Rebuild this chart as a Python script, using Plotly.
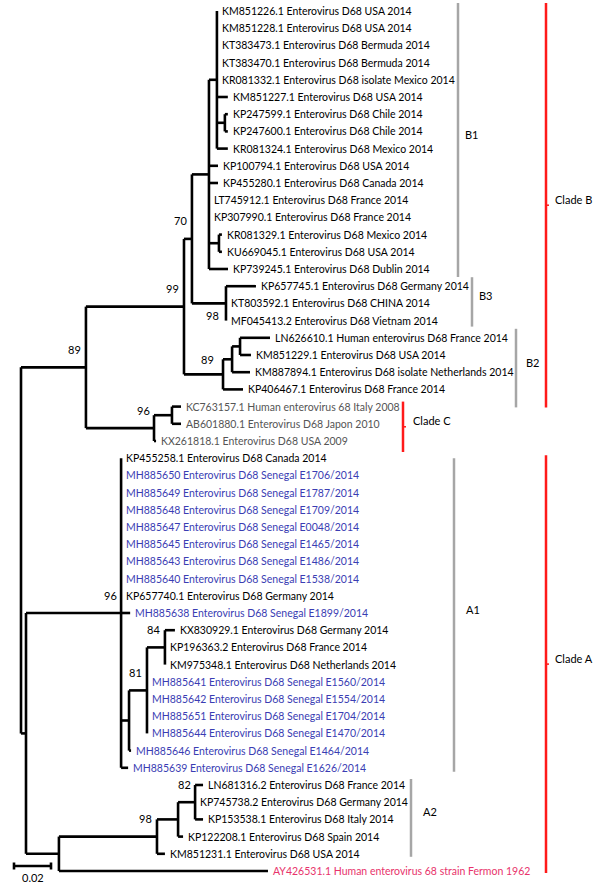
import plotly.graph_objects as go

# ---------------- data ----------------
leaf_labels = [
    "KM851226.1 Enterovirus D68 USA 2014",
    "KM851228.1 Enterovirus D68 USA 2014",
    "KT383473.1 Enterovirus D68 Bermuda 2014",
    "KT383470.1 Enterovirus D68 Bermuda 2014",
    "KR081332.1 Enterovirus D68 isolate Mexico 2014",
    "KM851227.1 Enterovirus D68 USA 2014",
    "KP247599.1 Enterovirus D68 Chile 2014",
    "KP247600.1 Enterovirus D68 Chile 2014",
    "KR081324.1 Enterovirus D68 Mexico 2014",
    "KP100794.1 Enterovirus D68 USA 2014",
    "KP455280.1 Enterovirus D68 Canada 2014",
    "LT745912.1 Enterovirus D68 France 2014",
    "KP307990.1 Enterovirus D68 France 2014",
    "KR081329.1 Enterovirus D68 Mexico 2014",
    "KU669045.1 Enterovirus D68 USA 2014",
    "KP739245.1 Enterovirus D68 Dublin 2014",
    "KP657745.1 Enterovirus D68 Germany 2014",
    "KT803592.1 Enterovirus D68 CHINA 2014",
    "MF045413.2 Enterovirus D68 Vietnam 2014",
    "LN626610.1 Human enterovirus D68 France 2014",
    "KM851229.1 Enterovirus D68 USA 2014",
    "KM887894.1 Enterovirus D68 isolate Netherlands 2014",
    "KP406467.1 Enterovirus D68 France 2014",
    "KC763157.1 Human enterovirus 68 Italy 2008",
    "AB601880.1 Enterovirus D68 Japon 2010",
    "KX261818.1 Enterovirus D68 USA 2009",
    "KP455258.1 Enterovirus D68 Canada 2014",
    "MH885650 Enterovirus D68 Senegal E1706/2014",
    "MH885649 Enterovirus D68 Senegal E1787/2014",
    "MH885648 Enterovirus D68 Senegal E1709/2014",
    "MH885647 Enterovirus D68 Senegal E0048/2014",
    "MH885645 Enterovirus D68 Senegal E1465/2014",
    "MH885643 Enterovirus D68 Senegal E1486/2014",
    "MH885640 Enterovirus D68 Senegal E1538/2014",
    "KP657740.1 Enterovirus D68 Germany 2014",
    "MH885638 Enterovirus D68 Senegal E1899/2014",
    "KX830929.1 Enterovirus D68 Germany 2014",
    "KP196363.2 Enterovirus D68 France 2014",
    "KM975348.1 Enterovirus D68 Netherlands 2014",
    "MH885641 Enterovirus D68 Senegal E1560/2014",
    "MH885642 Enterovirus D68 Senegal E1554/2014",
    "MH885651 Enterovirus D68 Senegal E1704/2014",
    "MH885644 Enterovirus D68 Senegal E1470/2014",
    "MH885646 Enterovirus D68 Senegal E1464/2014",
    "MH885639 Enterovirus D68 Senegal E1626/2014",
    "LN681316.2 Enterovirus D68 France 2014",
    "KP745738.2 Enterovirus D68 Germany 2014",
    "KP153538.1 Enterovirus D68 Italy 2014",
    "KP122208.1 Enterovirus D68 Spain 2014",
    "KM851231.1 Enterovirus D68 USA 2014",
    "AY426531.1 Human enterovirus 68 strain Fermon 1962",
]
leaf_groups = (["ref"] * 23 + ["old"] * 3 + ["ref"] + ["senegal"] * 7 + ["ref"]
               + ["senegal"] + ["ref"] * 3 + ["senegal"] * 6 + ["ref"] * 5 + ["prototype"])

# tree edges: (child, parent, branch length in substitutions/site)
edges_backbone = [
    ("BC", "root", 0.0351), ("A", "root", 0.0027),
    ("B", "BC", 0.0530), ("C", "BC", 0.0368),
    ("B1B3", "B", 0.0043), ("B2", "B", 0.0211),
    ("B1", "B1B3", 0.0092), ("B3", "B1B3", 0.0184),
    ("A1", "A", 0.0514), ("A2O", "A", 0.0178),
    ("A2", "A2O", 0.0530), ("AY426531", "A2O", 0.1130),
]
edges_B1 = [
    ("N1", "B1", 0.0043),
    ("KM851226", "N1", 0.0), ("KM851228", "N1", 0.0), ("KT383473", "N1", 0.0),
    ("KT383470", "N1", 0.0), ("KR081332", "N1", 0.0), ("KM851227", "N1", 0.0059),
    ("N2", "N1", 0.0043), ("KP247599", "N2", 0.0016), ("KP247600", "N2", 0.0016),
    ("KR081324", "N1", 0.0059),
    ("KP100794", "B1", 0.0049), ("KP455280", "B1", 0.0049), ("LT745912", "B1", 0.0),
    ("KP307990", "B1", 0.0), ("N3", "B1", 0.0054), ("KR081329", "N3", 0.0016),
    ("KU669045", "N3", 0.0016), ("KP739245", "B1", 0.0103),
]
edges_B3_B2 = [
    ("KP657745", "B3", 0.0162), ("KT803592", "B3", 0.0), ("MF045413", "B3", 0.0),
    ("B2a", "B2", 0.0049), ("KP406467", "B2", 0.0108),
    ("B2b", "B2a", 0.0043), ("KM887894", "B2a", 0.0097),
    ("LN626610", "B2b", 0.0162), ("KM851229", "B2b", 0.0059),
]
edges_C = [
    ("C1", "C", 0.0097), ("KC763157", "C1", 0.0049), ("AB601880", "C1", 0.0049),
    ("KX261818", "C", 0.0011),
]
edges_A1 = [
    ("KP455258", "A1", 0.0), ("MH885650", "A1", 0.0), ("MH885649", "A1", 0.0),
    ("MH885648", "A1", 0.0), ("MH885647", "A1", 0.0), ("MH885645", "A1", 0.0),
    ("MH885643", "A1", 0.0), ("MH885640", "A1", 0.0), ("KP657740", "A1", 0.0),
    ("MH885638", "A1", 0.0049), ("S1", "A1", 0.0043), ("MH885639", "A1", 0.0038),
    ("S2", "S1", 0.0097), ("MH885646", "S1", 0.0011),
    ("S3", "S2", 0.0097), ("MH885641", "S2", 0.0), ("MH885642", "S2", 0.0),
    ("MH885651", "S2", 0.0), ("MH885644", "S2", 0.0),
    ("KX830929", "S3", 0.0054), ("KP196363", "S3", 0.0), ("KM975348", "S3", 0.0),
]
edges_A2 = [
    ("A2a", "A2", 0.0114), ("KM851231", "A2", 0.0043),
    ("A2b", "A2a", 0.0092), ("KP122208", "A2a", 0.0027),
    ("LN681316", "A2b", 0.0043), ("KP745738", "A2b", 0.0), ("KP153538", "A2b", 0.0043),
]

bootstrap_nodes = ["BC", "B", "B1B3", "B3", "B2", "C", "A1", "S2", "S3", "A2", "A2b"]
bootstrap_values = [89, 99, 70, 98, 89, 96, 96, 81, 84, 98, 82]

clade_names = ["B1", "B3", "B2", "Clade B", "Clade C", "A1", "A2", "Clade A"]
clade_first = ["KM851226", "KP657745", "LN626610", "KM851226", "KC763157", "KP455258", "LN681316", "KP455258"]
clade_last = ["KP739245", "MF045413", "KP406467", "KP406467", "KX261818", "MH885639", "KM851231", "AY426531"]

scale_bar_value = 0.02

# ---------------- style ----------------
W, H = 600, 893
PX_PER_UNIT = 1850.0
ROOT_PX = 21.0
LEAF_TOP_PX, LEAF_STEP_PX = 11.0, 17.2
FONT = "Lato"
LEAF_FONT_SIZE = 10.5
group_color = {"ref": "#000000", "senegal": "#3a3db3", "old": "#555555", "prototype": "#e8336b"}
bootstrap_shift = {"B3": (-13, -12), "B2": (-16, 15)}
# per clade: bar x (px), colour, top pad (px), bottom pad (px), label gap (px)
clade_style = {
    "B1": (458, "#a6a6a6", 8, 8, 5),
    "B3": (472, "#a6a6a6", 9, 6, 5),
    "B2": (516, "#a6a6a6", 9, 18, 8),
    "Clade B": (546, "#ff1a1a", 8, 18, 7),
    "Clade C": (403, "#ff1a1a", 5, 11, 8),
    "A1": (454, "#a6a6a6", 0, 4, 10),
    "A2": (411, "#a6a6a6", 6, 3, 10),
    "Clade A": (546, "#ff1a1a", 3, 2, 7),
}

# ---------------- layout computation ----------------
edges = edges_backbone + edges_B1 + edges_B3_B2 + edges_C + edges_A1 + edges_A2
blen = {c: l for c, _, l in edges}
children = {}
for c, p, _ in edges:
    children.setdefault(p, []).append(c)

leaf_keys = [lab.split()[0].split(".")[0] for lab in leaf_labels]
leaf_index = {k: i for i, k in enumerate(leaf_keys)}

xpos = {"root": 0.0}
def set_x(n):
    for c in children.get(n, []):
        xpos[c] = xpos[n] + blen[c]
        set_x(c)
set_x("root")

ypos = {}
def set_y(n):
    if n in leaf_index:
        ypos[n] = float(leaf_index[n])
    else:
        ys = [set_y(c) for c in children[n]]
        ypos[n] = (min(ys) + max(ys)) / 2.0
    return ypos[n]
set_y("root")

lx, ly = [], []
for c, p, _ in edges:
    lx += [xpos[p], xpos[c], None]
    ly += [ypos[c], ypos[c], None]
for n, cs in children.items():
    ys = [ypos[c] for c in cs]
    lx += [xpos[n], xpos[n], None]
    ly += [min(ys), max(ys), None]

fig = go.Figure()
fig.add_trace(go.Scatter(x=lx, y=ly, mode="lines",
                         line=dict(color="#000000", width=2.6),
                         hoverinfo="skip", showlegend=False))

annotations = []
for i, lab in enumerate(leaf_labels):
    k = leaf_keys[i]
    annotations.append(dict(x=xpos[k], y=ypos[k], text=lab, showarrow=False,
                            xanchor="left", yanchor="middle", xshift=3,
                            font=dict(family=FONT, size=LEAF_FONT_SIZE,
                                      color=group_color[leaf_groups[i]])))

for n, v in zip(bootstrap_nodes, bootstrap_values):
    dx, dy = bootstrap_shift.get(n, (-11, 18))
    annotations.append(dict(x=xpos[n], y=ypos[n], text=str(v), showarrow=False,
                            xanchor="center", yanchor="middle", xshift=dx, yshift=dy,
                            font=dict(family=FONT, size=11, color="#000000")))

shapes = []
for name, f, l in zip(clade_names, clade_first, clade_last):
    bx, col, tp, bp, gap = clade_style[name]
    y0 = ypos[f] - tp / LEAF_STEP_PX
    y1 = ypos[l] + bp / LEAF_STEP_PX
    shapes.append(dict(type="line", xref="paper", yref="y", x0=bx / W, x1=bx / W,
                       y0=y0, y1=y1, line=dict(color=col, width=2.5)))
    ym = (y0 + y1) / 2
    if "Clade" in name:
        shapes.append(dict(type="line", xref="paper", yref="y", x0=bx / W, x1=(bx + 3) / W,
                           y0=ym, y1=ym, line=dict(color=col, width=1.5)))
    annotations.append(dict(xref="paper", yref="y", x=(bx + gap) / W, y=ym, text=name,
                            showarrow=False, xanchor="left", yanchor="middle", yshift=6,
                            font=dict(family=FONT, size=11, color="#000000")))

# scale bar
sb_x0 = (14 - ROOT_PX) / PX_PER_UNIT
sb_y = (866 - LEAF_TOP_PX) / LEAF_STEP_PX
tick = 3.5 / LEAF_STEP_PX
fig.add_trace(go.Scatter(x=[sb_x0, sb_x0 + scale_bar_value, None, sb_x0, sb_x0, None,
                            sb_x0 + scale_bar_value, sb_x0 + scale_bar_value],
                         y=[sb_y, sb_y, None, sb_y - tick, sb_y + tick, None,
                            sb_y - tick, sb_y + tick],
                         mode="lines", line=dict(color="#000000", width=2.6),
                         hoverinfo="skip", showlegend=False))
annotations.append(dict(x=sb_x0 + scale_bar_value / 2, y=sb_y, text=f"{scale_bar_value:g}",
                        showarrow=False, xanchor="center", yanchor="top", yshift=-3,
                        font=dict(family=FONT, size=11, color="#000000")))

x_min = -ROOT_PX / PX_PER_UNIT
x_max = (W - ROOT_PX) / PX_PER_UNIT
y_top = -LEAF_TOP_PX / LEAF_STEP_PX
y_bot = (H - LEAF_TOP_PX) / LEAF_STEP_PX

fig.update_layout(
    width=W, height=H, margin=dict(l=0, r=0, t=0, b=0),
    paper_bgcolor="white", plot_bgcolor="white",
    xaxis=dict(range=[x_min, x_max], visible=False, fixedrange=True),
    yaxis=dict(range=[y_bot, y_top], visible=False, fixedrange=True),
    annotations=annotations, shapes=shapes, showlegend=False,
)
fig.write_html("out.html", config={"displayModeBar": False},
               post_script="document.body.style.margin='0px';document.body.style.overflow='hidden';")
